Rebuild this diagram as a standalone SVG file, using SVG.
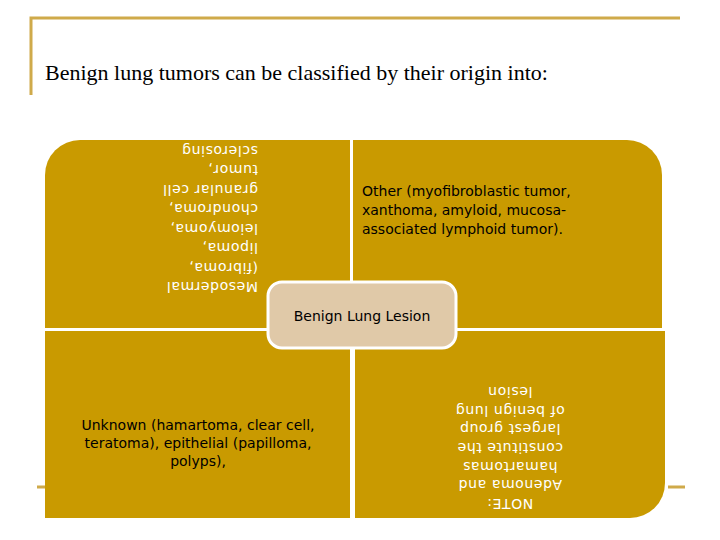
<svg xmlns="http://www.w3.org/2000/svg" width="720" height="540" viewBox="0 0 720 540">
<style>
.q{fill:#c99a00}
.t{font-family:"DejaVu Sans",sans-serif;font-size:14px;fill:#000}
.w{font-family:"DejaVu Sans",sans-serif;font-size:14px;fill:#fff;letter-spacing:0.6px}
.f{stroke:#cfaa4a;stroke-width:3;fill:none}
</style>
<defs><clipPath id="c1"><rect x="45" y="140" width="305" height="188"/></clipPath></defs>
<rect width="720" height="540" fill="#fff"/>
<g id="frame"><path class="f" d="M31 95 V18 H680"/><path class="f" d="M37 487 H50 M668 487 H685"/></g>
<text x="45" y="80" font-family="Liberation Serif,serif" font-size="22">Benign lung tumors can be classified by their origin into:</text>
<g id="connectors"></g>
<g id="mesodermal">
<path class="q" d="M80 140 H350 V328 H45 V175 A35 35 0 0 1 80 140Z"/>
<g clip-path="url(#c1)"><g transform="rotate(180 200 235)" class="w">
<text x="142" y="188">Mesodermal</text><text x="142" y="207.5">(fibroma,</text><text x="142" y="227">lipoma,</text><text x="142" y="246.5">leiomyoma,</text><text x="142" y="266">chondroma,</text><text x="142" y="285.5">granular cell</text><text x="142" y="305">tumor,</text><text x="142" y="324.5">sclerosing</text><text x="142" y="344">hemangioma)</text>
</g></g></g>
<g id="other">
<path class="q" d="M353 140 H627 A35 35 0 0 1 662 175 V328 H353Z"/>
<text class="t" x="362" y="196">Other (myofibroblastic tumor,</text><text class="t" x="362" y="215">xanthoma, amyloid, mucosa-</text><text class="t" x="362" y="234">associated lymphoid tumor).</text>
</g>
<g id="unknown">
<rect class="q" x="45" y="331" width="305" height="187"/>
<g class="t" text-anchor="middle"><text x="198" y="430">Unknown (hamartoma, clear cell,</text><text x="198" y="448">teratoma), epithelial (papilloma,</text><text x="198" y="466">polyps),</text></g>
</g>
<g id="note">
<path class="q" d="M355 331 H665 V483 A35 35 0 0 1 630 518 H355Z"/>
<g transform="rotate(180 510 450)" class="w" text-anchor="middle">
<text x="510" y="401">NOTE:</text><text x="510" y="419.7">Adenoma and</text><text x="510" y="438.4">hamartomas</text><text x="510" y="457.1">constitute the</text><text x="510" y="475.8">largest group</text><text x="510" y="494.5">of benign lung</text><text x="510" y="513.2">lesion</text>
</g></g>
<g id="center">
<rect x="268" y="282" width="188" height="66" rx="14" fill="#e0c9a8" stroke="#fff" stroke-width="3"/>
<text class="t" x="362" y="321" text-anchor="middle">Benign Lung Lesion</text>
</g>
</svg>
